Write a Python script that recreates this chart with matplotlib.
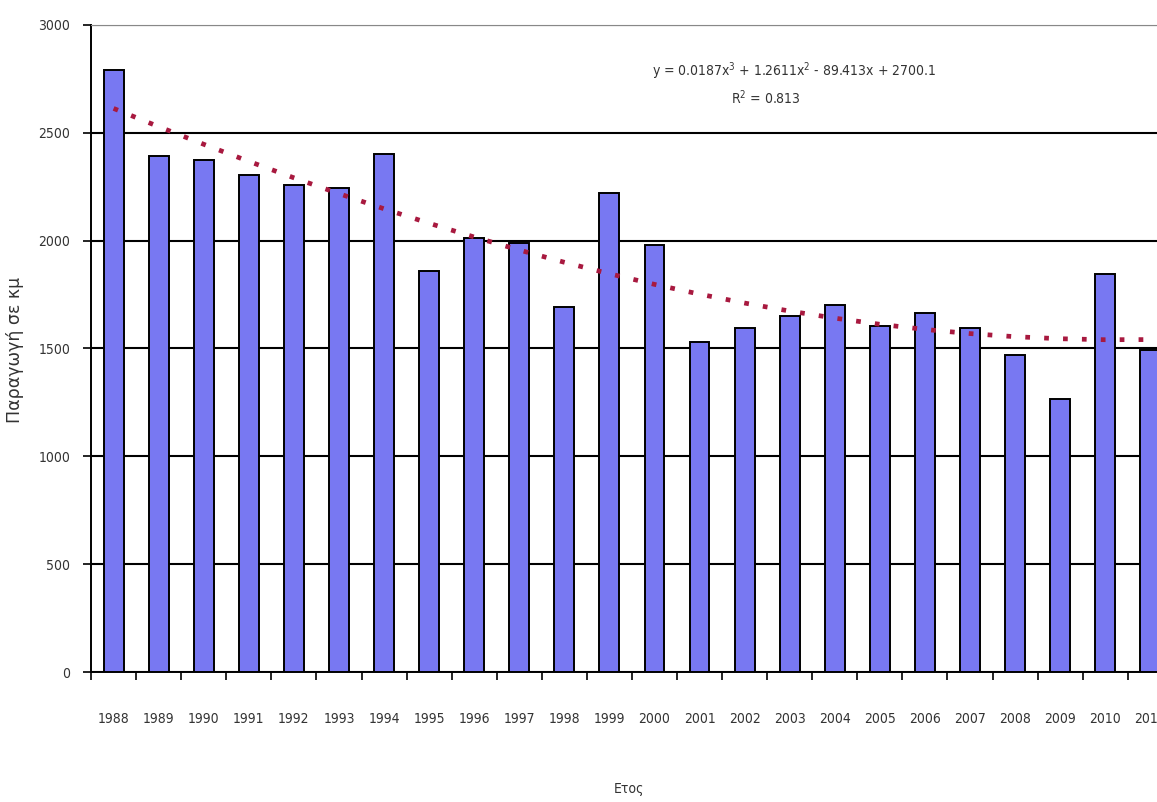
import numpy as np
import matplotlib
matplotlib.use("Agg")
import matplotlib.pyplot as plt

plt.rcParams['font.family'] = ['DejaVu Sans']
plt.rcParams['font.stretch'] = 'condensed'

# production per year
years = [1988, 1989, 1990, 1991, 1992, 1993, 1994, 1995, 1996, 1997, 1998, 1999,
         2000, 2001, 2002, 2003, 2004, 2005, 2006, 2007, 2008, 2009, 2010, 2011]
production = [2790, 2390, 2375, 2305, 2258, 2244, 2400, 1858, 2012, 1990, 1690, 2220,
              1980, 1532, 1595, 1652, 1700, 1605, 1665, 1595, 1472, 1266, 1845, 1495]
yTicks = [0, 500, 1000, 1500, 2000, 2500, 3000]
equationText = "y = 0.0187x$^3$ + 1.2611x$^2$ - 89.413x + 2700.1"
r2Text = "R$^2$ = 0.813"

fig = plt.figure(figsize=(11.57, 8.02), dpi=100)
ax = fig.add_axes([0.0787, 0.162, 0.935, 0.807])

pos = np.arange(len(years))

#bars
ax.bar(pos, production, width=0.44, color='#7878F2', edgecolor='black', linewidth=1.4, zorder=3)

#cubic trend line like excel does
coef = np.polyfit(pos + 1, production, 3)
ax.plot(pos, np.polyval(coef, pos + 1), color='#A8193F', linewidth=3.4,
        linestyle=(0, (1.0, 3.0)), zorder=4)

ax.set_xlim(-0.5, len(years) - 0.5)
ax.set_ylim(0, 3000)

#horizontal grid
ax.set_yticks(yTicks)
ax.yaxis.grid(True, color='black', linewidth=1.5, zorder=1)
ax.set_axisbelow(True)

#tick marks at the boundaries, labels in the middle
ax.set_xticks(np.arange(len(years) + 1) - 0.5)
ax.set_xticklabels([])
ax.set_xticks(pos, minor=True)
ax.set_xticklabels([str(y) for y in years], minor=True)
ax.tick_params(axis='x', which='major', direction='out', length=6, width=1.2)
ax.tick_params(axis='x', which='minor', length=0, pad=28.5, labelsize=10, labelcolor='#333333')
ax.tick_params(axis='y', direction='out', length=6, width=1.2, pad=9, labelsize=10, labelcolor='#333333')

ax.spines['right'].set_visible(False)
ax.spines['top'].set_color('#888888')
ax.spines['left'].set_linewidth(1.4)
ax.spines['bottom'].set_linewidth(1.4)

ax.set_ylabel("Παραγωγή σε κμ", fontsize=12.5, fontstretch='normal', color='#333333')
ax.yaxis.set_label_coords(-0.062, 0.497)
ax.set_xlabel("Ετος", fontsize=10, color='#333333')
ax.xaxis.set_label_coords(0.497, -0.17)

ax.text(0.65, 0.929, equationText, transform=ax.transAxes, ha='center', va='center',
        fontsize=10, color='#333333')
ax.text(0.624, 0.888, r2Text, transform=ax.transAxes, ha='center', va='center',
        fontsize=10, color='#333333')

fig.savefig("out.png", dpi=100)
